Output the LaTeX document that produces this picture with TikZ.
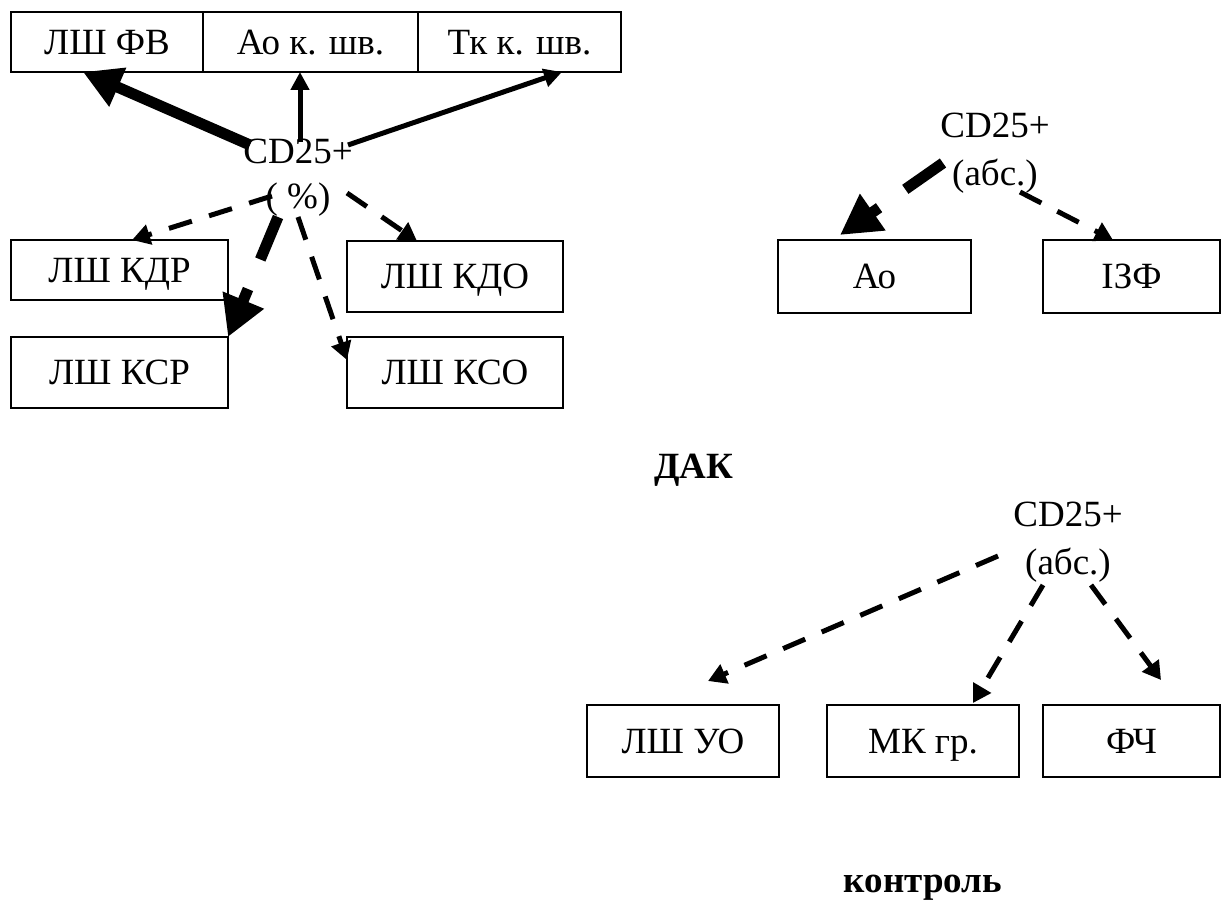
\documentclass[tikz,border=0pt]{standalone}
\usepackage{fontspec}
\setmainfont{Liberation Serif}
\usetikzlibrary{%
    arrows.meta,
    calc,
    positioning
}
\tikzset{cell/.style = {draw, line width=1pt, inner sep=0pt, outer sep=0pt, text height=12.3pt, text depth=0pt}}
\tikzset{lbl/.style = {inner sep=0pt, anchor=base}}
\tikzset{boldarrow/.style = {line width=5.5pt, -{Triangle[length=19pt,width=20pt]}}}
\tikzset{thinarrow/.style = {line width=2.5pt, -{Triangle[length=9pt,width=9pt]}}}
\tikzset{dasharrow/.style = {line width=2.5pt, dash pattern=on 12pt off 9pt, -{Triangle[length=9pt,width=10pt]}}}
\tikzset{bolddash/.style = {line width=5.5pt, dash pattern=on 23pt off 16pt, -{Triangle[length=20pt,width=21pt]}}}

\begin{document}
\begin{tikzpicture}[x=0.5pt, y=-0.5pt, font=\fontsize{18.5}{22.5}\selectfont]
    \useasboundingbox (0,0) rectangle (1224,899);

    % CD25+ (%)
    \node (fv) at (107,42) [cell, minimum width=96pt, minimum height=30pt] {ЛШ ФВ};
    \node (aok) [cell, right=0pt of fv, minimum width=107.5pt, minimum height=30pt] {Ао к. шв.};
    \node (tk) [cell, right=0pt of aok, minimum width=101.5pt, minimum height=30pt] {Тк к. шв.};
    \node (cd1) at (298,163) [lbl] {CD25+};
    \node (pct) at (298,208) [lbl] {( \%)};
    \node (kdr) at (119.5,270) [cell, minimum width=108.5pt, minimum height=30pt] {ЛШ КДР};
    \node (ksr) [cell, below=18.5pt of kdr, minimum width=108.5pt, minimum height=35.5pt] {ЛШ КСР};
    \node (kdo) at (455,276.5) [cell, minimum width=108pt, minimum height=35.5pt] {ЛШ КДО};
    \node (kso) [cell, below=12.5pt of kdo, minimum width=108pt, minimum height=35.5pt] {ЛШ КСО};

    \draw[boldarrow] ($(cd1.base)+(-48,-18)$) -- ($(fv.south)+(-24,0)$);
    \draw[thinarrow] ($(cd1.base)+(2,-21)$) -- ($(aok.south)+(-10.5,0)$);
    \draw[thinarrow] ($(cd1.base)+(50,-18)$) -- ($(tk.south)+(42.5,0)$);
    \draw[dasharrow] ($(pct.base)+(-26,-12)$) -- ($(kdr.north)+(12.5,0)$);
    \draw[bolddash] ($(pct.base)+(-20,9)$) -- (ksr.north east);
    \draw[dasharrow] ($(pct.base)+(0,9)$) -- ($(kso.west)+(0,-12.5)$);
    \draw[dasharrow] ($(pct.base)+(49,-15)$) -- ($(kdo.north)+(-38,0)$);

    % ДАК
    \node (cd2) at (995,137) [lbl] {CD25+};
    \node (abs2) at (995,185) [lbl] {(абс.)};
    \node (ao) at (874.5,276.5) [cell, minimum width=96.5pt, minimum height=36.5pt] {Ао};
    \node (izf) [cell, right=36pt of ao, minimum width=88.5pt, minimum height=36.5pt] {ІЗФ};
    \node (dak) at (694,478) [lbl] {\bfseries ДАК};

    \draw[bolddash] ($(abs2.base)+(-52,-22)$) -- ($(ao.north)+(-34.5,-5)$);
    \draw[dasharrow] ($(abs2.base)+(25,7)$) -- ($(izf.north)+(-18.5,0)$);

    % контроль
    \node (cd3) at (1068,526) [lbl] {CD25+};
    \node (abs3) at (1068,574) [lbl] {(абс.)};
    \node (lshuo) at (683,741) [cell, minimum width=96pt, minimum height=36pt] {ЛШ УО};
    \node (mk) [cell, right=24pt of lshuo, minimum width=96pt, minimum height=36pt] {МК гр.};
    \node (fch) [cell, right=12pt of mk, minimum width=88.5pt, minimum height=36pt] {ФЧ};
    \node (kontrol) at (923,892) [lbl] {\bfseries контроль};

    \draw[dasharrow] ($(abs3.base)+(-70,-18)$) -- ($(lshuo.north)+(25,-24)$);
    \draw[dasharrow] ($(abs3.base)+(-25,11)$) -- ($(mk.north)+(50,-2)$);
    \draw[dasharrow] ($(abs3.base)+(23,11)$) -- ($(fch.north)+(29.5,-25)$);
\end{tikzpicture}
\end{document}
